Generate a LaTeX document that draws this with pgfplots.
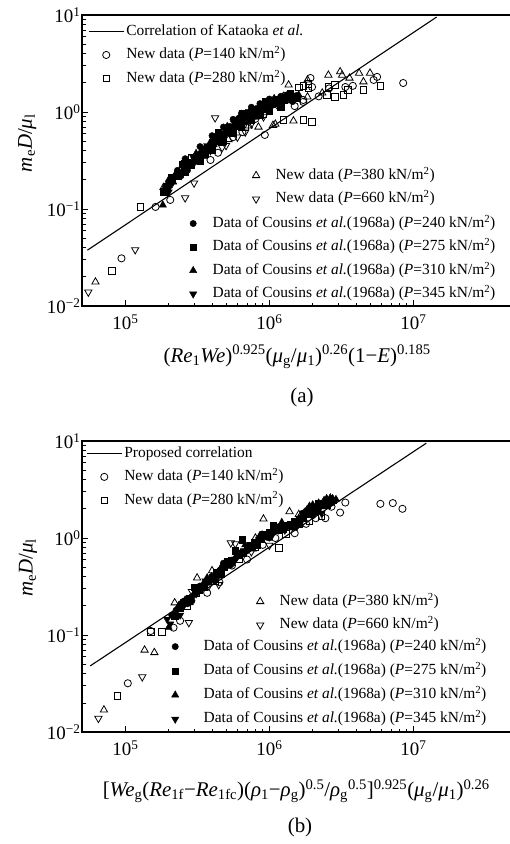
\documentclass[border=0pt]{standalone}
\usepackage{fontspec}
\setmainfont{Liberation Serif}
\usepackage{pgfplots}
\pgfplotsset{compat=1.18}
\newcommand{\knm}{kN/m\textsuperscript{2})}
\pgfplotsset{every axis/.append style={scale only axis, width=432bp, height=291bp,
    xmin=5e4, xmax=5e7, ymin=0.01, ymax=10, anchor=south west,
    legend cell align=left,
    legend style={draw=none, fill=none, inner sep=0pt, font=\fontsize{15.5}{18}\selectfont,
      row sep=9bp, nodes={inner xsep=2bp, inner ysep=0pt, text height=11bp, text depth=3.5bp}},
    legend image code/.code={\pgfpathrectangle{\pgfpoint{0bp}{-3bp}}{\pgfpoint{35bp}{6bp}}\pgfusepath{}\draw[mark repeat=2,mark phase=2,##1] plot coordinates {(0bp,0bp)(17.5bp,0bp)(35bp,0bp)};}}}
\tikzset{
  mkoc/.style={black, only marks, mark=o, mark size=3.6bp, mark options={line width=0.8bp}},
  mkos/.style={black, only marks, mark=square, mark size=3.3bp, mark options={line width=0.8bp}},
  mkotu/.style={black, only marks, mark=triangle, mark size=4.2bp, mark options={line width=0.8bp}},
  mkotd/.style={black, only marks, mark=triangle, mark size=4.2bp, mark options={line width=0.8bp, rotate=180}},
  mkfc/.style={black, only marks, mark=*, mark size=3.2bp},
  mkfs/.style={black, only marks, mark=square*, mark size=3.1bp},
  mkftu/.style={black, only marks, mark=triangle*, mark size=4.2bp},
  mkftd/.style={black, only marks, mark=triangle*, mark size=4.2bp, mark options={rotate=180}},
  mkcorr/.style={black, line width=1.1bp},
}
\begin{document}
\begin{tikzpicture}
% ================= panel (a) =================
\begin{loglogaxis}[at={(82bp,538bp)},
  xtick={1e5,1e6,1e7}, xticklabels={10\textsuperscript{5},10\textsuperscript{6},10\textsuperscript{7}},
  ytick={0.01,0.1,1,10}, yticklabels={10\textsuperscript{−2},10\textsuperscript{−1},10\textsuperscript{0},10\textsuperscript{1}},
  xtick pos=left, ytick pos=left, tick align=inside,
  major tick length=6bp, minor tick length=3.5bp,
  axis line style={line width=1.3bp},
  major tick style={line width=0.8bp, black}, minor tick style={line width=0.6bp, black},
  ticklabel style={font=\fontsize{19}{22}\selectfont},
  xticklabel style={yshift=-5bp}, yticklabel style={xshift=2bp},
  label style={font=\fontsize{21}{24}\selectfont},
  ylabel={\textit{m}\textsubscript{e}\textit{D}/\textit{μ}\textsubscript{l}},
  xlabel={(\textit{Re}\textsubscript{1}\textit{We})\textsuperscript{0.925}(\textit{μ}\textsubscript{g}/\textit{μ}\textsubscript{1})\textsuperscript{0.26}(1−\textit{E})\textsuperscript{0.185}},
  ylabel style={at={(axis description cs:-0.127,0.56)}, anchor=center},
  xlabel style={at={(axis description cs:0.498,-0.175)}, anchor=center},
  legend style={at={(axis description cs:0.0139,0.969)}, anchor=north west}]
\addplot[mkfc, forget plot] coordinates {(1.9e5,0.17)(2.3e5,0.25)(2.7e5,0.25)(3.0e5,0.34)(3.4e5,0.365)(3.8e5,0.44)(4.2e5,0.555)(4.6e5,0.51)(5.0e5,0.65)(5.4e5,0.65)(5.8e5,0.74)(6.2e5,0.875)(6.8e5,0.79)(7.3e5,0.98)(7.9e5,0.94)(8.4e5,1.04)(9.0e5,1.21)(9.7e5,1.04)(1.05e6,1.27)(1.15e6,1.21)(1.25e6,1.33)(1.35e6,1.51)(1.45e6,1.28)
 (2.0e5,0.19)(2.45e5,0.23)(3.15e5,0.31)(3.55e5,0.42)(3.95e5,0.47)(4.35e5,0.52)(4.9e5,0.60)(5.3e5,0.71)(5.95e5,0.77)(6.5e5,0.88)(7.1e5,0.91)(7.7e5,1.00)(8.1e5,1.08)(8.7e5,1.07)(9.4e5,1.16)(1.0e6,1.20)(1.1e6,1.29)(1.2e6,1.27)(1.4e6,1.40)(1.55e6,1.48)
 (2.6e5,0.33)(3.3e5,0.44)(4.0e5,0.57)(4.8e5,0.70)(5.6e5,0.84)(6.4e5,0.97)(7.5e5,1.12)(8.6e5,1.22)(1.0e6,1.36)(1.2e6,1.45)};
\addplot[mkfs, forget plot] coordinates {(1.85e5,0.15)(2.1e5,0.21)(2.5e5,0.29)(2.85e5,0.285)(3.2e5,0.35)(3.6e5,0.37)(4.0e5,0.49)(4.4e5,0.615)(4.8e5,0.56)(5.2e5,0.65)(5.6e5,0.64)(6.0e5,0.81)(6.5e5,0.96)(7.1e5,0.865)(7.6e5,0.96)(8.2e5,0.92)(8.8e5,1.13)(9.4e5,1.30)(1.0e6,1.12)(1.1e6,1.24)(1.2e6,1.17)(1.3e6,1.42)(1.4e6,1.55)(1.55e6,1.40)
 (1.95e5,0.17)(2.3e5,0.22)(2.7e5,0.30)(3.05e5,0.32)(3.45e5,0.40)(3.85e5,0.43)(4.2e5,0.50)(4.65e5,0.58)(5.05e5,0.62)(5.45e5,0.70)(5.8e5,0.72)(6.3e5,0.80)(6.9e5,0.92)(7.4e5,0.93)(8.0e5,1.02)(8.6e5,1.03)(9.1e5,1.12)(9.8e5,1.18)(1.05e6,1.21)(1.16e6,1.30)(1.27e6,1.33)(1.45e6,1.44)
 (2.6e5,0.24)(3.3e5,0.31)(4.0e5,0.40)(4.8e5,0.50)(5.6e5,0.60)(6.4e5,0.70)(7.5e5,0.83)(8.6e5,0.93)(1.0e6,1.03)(1.2e6,1.12)};
\addplot[mkftu, forget plot] coordinates {(1.82e5,0.11)(2.0e5,0.20)(2.4e5,0.22)(2.75e5,0.29)(3.1e5,0.375)(3.5e5,0.35)(3.9e5,0.49)(4.3e5,0.48)(4.7e5,0.58)(5.1e5,0.71)(5.5e5,0.62)(5.9e5,0.82)(6.3e5,0.745)(6.9e5,0.89)(7.4e5,1.05)(8.0e5,0.88)(8.6e5,1.14)(9.2e5,1.03)(9.9e5,1.17)(1.08e6,1.38)(1.18e6,1.13)(1.28e6,1.45)(1.42e6,1.30)(1.6e6,1.5)
 (2.15e5,0.19)(2.55e5,0.26)(2.95e5,0.31)(3.3e5,0.38)(3.7e5,0.42)(4.1e5,0.46)(4.5e5,0.55)(4.95e5,0.62)(5.35e5,0.66)(5.75e5,0.72)(6.15e5,0.79)(6.6e5,0.86)(7.15e5,0.94)(7.7e5,0.97)(8.3e5,1.03)(8.9e5,1.10)(9.55e5,1.13)(1.04e6,1.22)(1.14e6,1.27)(1.23e6,1.32)(1.35e6,1.37)(1.5e6,1.42)};
\addplot[mkftd, forget plot] coordinates {(2.0e5,0.15)(2.2e5,0.21)(2.6e5,0.26)(2.95e5,0.345)(3.3e5,0.33)(3.7e5,0.45)(4.1e5,0.49)(4.5e5,0.52)(4.9e5,0.665)(5.3e5,0.60)(5.7e5,0.765)(6.1e5,0.78)(6.7e5,0.82)(7.2e5,1.01)(7.8e5,0.88)(8.5e5,1.10)(9.3e5,1.125)(1.02e6,1.13)(1.12e6,1.38)(1.22e6,1.18)(1.32e6,1.43)
 (2.1e5,0.18)(2.45e5,0.22)(2.8e5,0.29)(3.15e5,0.34)(3.5e5,0.39)(3.9e5,0.44)(4.3e5,0.50)(4.7e5,0.55)(5.1e5,0.64)(5.5e5,0.68)(5.95e5,0.73)(6.4e5,0.80)(6.95e5,0.87)(7.5e5,0.95)(8.1e5,0.99)(8.8e5,1.06)(9.7e5,1.17)(1.07e6,1.21)(1.17e6,1.26)(1.27e6,1.31)};
\addplot[mkotu, forget plot] coordinates {(6.2e4,0.0177)(1.84e5,0.167)(2.2e5,0.22)(2.4e5,0.25)(3.3e5,0.35)(5.2e5,0.52)(7.2e5,0.72)(8.4e5,0.70)(1.06e6,0.73)(1.1e6,0.75)(1.47e6,0.81)(1.36e6,1.9)(1.84e6,2.14)(1.84e6,1.43)(2.33e6,1.57)(2.57e6,2.4)(3.1e6,2.6)(3.2e6,2.4)(3.6e6,2.24)(4.2e6,2.52)(4.5e6,2.05)(5.0e6,2.52)(1.25e6,1.45)(9.5e5,1.25)};
\addplot[mkotd, forget plot] coordinates {(5.53e4,0.0139)(1.17e5,0.038)(2.6e5,0.13)(3.0e5,0.185)(2.6e5,0.30)(4.2e5,0.87)(3.9e5,0.40)(4.7e5,0.43)(6.8e5,0.62)(5.0e5,0.45)(9.1e5,0.89)(6.0e5,0.55)(7.5e5,0.75)};
\addplot[mkcorr] coordinates {(5.45e4,0.0376)(1.45e7,9.53)};
\addlegendentry{Correlation of Kataoka \textit{et al.}}
\addplot[mkoc] coordinates {(9.4e4,0.031)(1.62e5,0.105)(2.05e5,0.124)(2.1e5,0.2)(2.5e5,0.27)(2.9e5,0.29)(3.9e5,0.32)(4.4e5,0.38)(5.6e5,0.55)(6.5e5,0.62)(8.0e5,0.85)(9.3e5,0.58)(1.2e6,1.15)(1.72e6,1.27)(1.93e6,2.24)(1.98e6,1.81)(1.72e6,1.33)(2.2e6,1.45)(2.6e6,1.75)(3.37e6,1.81)(3.8e6,1.86)(5.3e6,2.14)(5.6e6,2.3)(8.5e6,1.99)(1.5e6,1.15)(1.35e6,1.5)};
\addlegendentry{New data (\textit{P}=140 \knm}
\addplot[mkos] coordinates {(8.1e4,0.023)(1.27e5,0.105)(1.84e5,0.15)(2.9e5,0.34)(4.5e5,0.5)(6.8e5,0.7)(9.0e5,0.95)(1.25e6,0.83)(1.72e6,0.83)(1.98e6,0.79)(1.6e6,1.8)(1.72e6,1.86)(1.87e6,1.95)(1.87e6,1.77)(2.5e6,1.5)(2.57e6,1.81)(2.85e6,1.9)(2.85e6,1.43)(3.27e6,1.5)(3.5e6,1.7)(4.5e6,1.7)(5.9e6,1.86)(1.15e6,1.35)(1.4e6,1.45)};
\addlegendentry{New data (\textit{P}=280 \knm}
\end{loglogaxis}
\begin{loglogaxis}[hide axis, at={(82bp,538bp)},
  legend style={at={(axis description cs:0.362,0.474)}, anchor=north west}]
\addlegendimage{mkotu}\addlegendentry{New data (\textit{P}=380 \knm}
\addlegendimage{mkotd}\addlegendentry{New data (\textit{P}=660 \knm}
\end{loglogaxis}
\begin{loglogaxis}[hide axis, at={(82bp,538bp)},
  legend style={at={(axis description cs:0.2164,0.309)}, anchor=north west}]
\addlegendimage{mkfc}\addlegendentry{Data of Cousins \textit{et al.}(1968a) (\textit{P}=240 \knm}
\addlegendimage{mkfs}\addlegendentry{Data of Cousins \textit{et al.}(1968a) (\textit{P}=275 \knm}
\addlegendimage{mkftu}\addlegendentry{Data of Cousins \textit{et al.}(1968a) (\textit{P}=310 \knm}
\addlegendimage{mkftd}\addlegendentry{Data of Cousins \textit{et al.}(1968a) (\textit{P}=345 \knm}
\end{loglogaxis}
\node[font=\fontsize{21}{24}\selectfont] at (302bp,447bp) {(a)};
% ================= panel (b) =================
\begin{loglogaxis}[at={(82bp,112bp)},
  xtick={1e5,1e6,1e7}, xticklabels={10\textsuperscript{5},10\textsuperscript{6},10\textsuperscript{7}},
  ytick={0.01,0.1,1,10}, yticklabels={10\textsuperscript{−2},10\textsuperscript{−1},10\textsuperscript{0},10\textsuperscript{1}},
  xtick pos=left, ytick pos=left, tick align=inside,
  major tick length=6bp, minor tick length=3.5bp,
  axis line style={line width=1.3bp},
  major tick style={line width=0.8bp, black}, minor tick style={line width=0.6bp, black},
  ticklabel style={font=\fontsize{19}{22}\selectfont},
  xticklabel style={yshift=-5bp}, yticklabel style={xshift=2bp},
  label style={font=\fontsize{21}{24}\selectfont},
  ylabel={\textit{m}\textsubscript{e}\textit{D}/\textit{μ}\textsubscript{l}},
  xlabel={[\textit{We}\textsubscript{g}(\textit{Re}\textsubscript{1f}−\textit{Re}\textsubscript{1fc})(\textit{ρ}\textsubscript{1}−\textit{ρ}\textsubscript{g})\textsuperscript{0.5}/\textit{ρ}\textsubscript{g}\textsuperscript{0.5}]\textsuperscript{0.925}(\textit{μ}\textsubscript{g}/\textit{μ}\textsubscript{1})\textsuperscript{0.26}},
  ylabel style={at={(axis description cs:-0.125,0.564)}, anchor=center},
  xlabel style={at={(axis description cs:0.496,-0.203)}, anchor=center},
  legend style={at={(axis description cs:0.0093,0.983)}, anchor=north west}]
\addplot[mkfc, forget plot] coordinates {(2.1e5,0.16)(2.5e5,0.22)(2.9e5,0.225)(3.3e5,0.32)(3.8e5,0.35)(4.3e5,0.43)(4.8e5,0.55)(5.4e5,0.53)(6.0e5,0.69)(6.9e5,0.73)(7.8e5,0.885)(8.9e5,1.1)(1.0e6,1.0)(1.15e6,1.30)(1.3e6,1.27)(1.5e6,1.47)(1.7e6,1.8)(2.0e6,1.7)(2.4e6,2.28)(2.7e6,2.3)
 (2.25e5,0.18)(2.7e5,0.21)(3.1e5,0.27)(3.55e5,0.34)(4.05e5,0.40)(4.55e5,0.46)(5.1e5,0.52)(5.7e5,0.60)(6.4e5,0.70)(7.3e5,0.82)(8.3e5,0.93)(9.5e5,1.08)(1.08e6,1.18)(1.22e6,1.30)(1.4e6,1.38)(1.6e6,1.56)(1.85e6,1.75)(2.2e6,2.0)(2.55e6,2.3)};
\addplot[mkfs, forget plot] coordinates {(2.2e5,0.155)(2.6e5,0.22)(3.0e5,0.31)(3.5e5,0.31)(4.0e5,0.39)(4.6e5,0.42)(5.1e5,0.57)(5.8e5,0.74)(6.5e5,0.96)(6.6e5,0.70)(7.4e5,0.84)(8.2e5,0.84)(9.3e5,1.10)(1.07e6,1.36)(1.25e6,1.24)(1.4e6,1.40)(1.6e6,1.40)(1.85e6,1.89)(2.2e6,2.3)(2.5e6,2.16)
 (2.4e5,0.19)(2.8e5,0.24)(3.25e5,0.29)(3.75e5,0.36)(4.3e5,0.44)(4.85e5,0.50)(5.45e5,0.59)(6.2e5,0.66)(7.0e5,0.78)(7.9e5,0.90)(8.8e5,0.98)(1.0e6,1.14)(1.15e6,1.22)(1.33e6,1.36)(1.5e6,1.50)(1.72e6,1.62)(2.05e6,1.90)(2.4e6,2.25)(2.75e6,2.45)};
\addplot[mkftu, forget plot] coordinates {(2.0e5,0.12)(2.35e5,0.20)(2.8e5,0.215)(3.2e5,0.295)(3.7e5,0.39)(4.2e5,0.365)(4.7e5,0.52)(5.2e5,0.515)(5.9e5,0.655)(6.8e5,0.85)(7.7e5,0.77)(8.6e5,1.06)(9.8e5,1.01)(1.1e6,1.2)(1.22e6,1.45)(1.45e6,1.27)(1.75e6,1.84)(1.9e6,2.13)(2.1e6,2.1)(2.3e6,2.1)(2.5e6,2.55)(2.65e6,2.6)(2.9e6,2.5)
 (2.2e5,0.17)(2.6e5,0.23)(3.0e5,0.27)(3.45e5,0.33)(3.95e5,0.40)(4.45e5,0.45)(5.0e5,0.55)(5.5e5,0.58)(6.3e5,0.70)(7.2e5,0.80)(8.2e5,0.92)(9.2e5,1.05)(1.04e6,1.13)(1.17e6,1.26)(1.33e6,1.33)(1.6e6,1.6)(1.82e6,1.95)(2.0e6,2.2)(2.2e6,2.3)(2.4e6,2.45)(2.75e6,2.55)};
\addplot[mkftd, forget plot] coordinates {(1.95e5,0.145)(2.05e5,0.13)(2.4e5,0.16)(2.75e5,0.225)(3.1e5,0.265)(3.6e5,0.36)(4.1e5,0.37)(4.6e5,0.465)(5.0e5,0.52)(5.7e5,0.57)(6.3e5,0.70)(7.2e5,0.78)(8.0e5,0.91)(9.0e5,1.01)(1.05e6,1.08)(1.28e6,1.2)(1.55e6,1.31)(1.8e6,1.75)(2.3e6,1.8)
 (2.2e5,0.16)(2.55e5,0.20)(2.95e5,0.25)(3.35e5,0.30)(3.85e5,0.38)(4.35e5,0.42)(4.8e5,0.49)(5.35e5,0.56)(6.0e5,0.64)(6.7e5,0.74)(7.6e5,0.85)(8.5e5,0.97)(9.5e5,1.04)(1.15e6,1.20)(1.4e6,1.35)(1.65e6,1.55)(2.0e6,1.95)};
\addplot[mkotu, forget plot] coordinates {(7.1e4,0.0169)(1.36e5,0.07)(1.59e5,0.066)(2.2e5,0.215)(2.35e5,0.2)(3.15e5,0.388)(4.0e5,0.46)(8.0e5,1.0)(9.1e5,1.57)(1.38e6,1.87)(1.6e6,1.75)(2.3e6,2.2)(2.5e6,2.3)(1.2e6,1.3)(6.0e5,0.65)};
\addplot[mkotd, forget plot] coordinates {(6.5e4,0.0138)(1.31e5,0.037)(2.76e5,0.134)(4.45e5,0.33)(5.4e5,0.89)(5.8e5,0.87)(1.0e6,0.84)(2.9e5,0.28)(3.8e5,0.32)(7.5e5,0.72)};
\addplot[mkcorr] coordinates {(5.7e4,0.048)(1.23e7,9.5)};
\addlegendentry{Proposed correlation}
\addplot[mkoc] coordinates {(1.04e5,0.0318)(1.5e5,0.11)(2.16e5,0.119)(2.4e5,0.14)(3.7e5,0.272)(4.5e5,0.35)(5.5e5,0.52)(7.0e5,0.6)(9.0e5,0.85)(1.1e6,1.0)(1.5e6,1.12)(2.1e6,1.6)(2.45e6,1.6)(3.1e6,1.83)(3.37e6,2.32)(5.9e6,2.25)(7.2e6,2.29)(8.4e6,2.0)(1.8e6,1.4)(2.7e6,2.1)};
\addlegendentry{New data (\textit{P}=140 \knm}
\addplot[mkos] coordinates {(8.8e4,0.0236)(1.51e5,0.108)(1.8e5,0.108)(2.68e5,0.198)(3.1e5,0.27)(4.2e5,0.36)(6.2e5,0.6)(8.0e5,0.8)(1.16e6,0.79)(1.3e6,1.1)(1.9e6,1.5)(2.3e6,1.7)};
\addlegendentry{New data (\textit{P}=280 \knm}
\end{loglogaxis}
\begin{loglogaxis}[hide axis, at={(82bp,112bp)},
  legend style={at={(axis description cs:0.3715,0.474)}, anchor=north west}]
\addlegendimage{mkotu}\addlegendentry{New data (\textit{P}=380 \knm}
\addlegendimage{mkotd}\addlegendentry{New data (\textit{P}=660 \knm}
\end{loglogaxis}
\begin{loglogaxis}[hide axis, at={(82bp,112bp)},
  legend image code/.code={\pgfpathrectangle{\pgfpoint{0bp}{-3bp}}{\pgfpoint{44bp}{6bp}}\pgfusepath{}\draw[mark repeat=2,mark phase=2,#1] plot coordinates {(0bp,0bp)(17.5bp,0bp)(35bp,0bp)};},
  legend style={at={(axis description cs:0.1748,0.319)}, anchor=north west, row sep=9.7bp}]
\addlegendimage{mkfc}\addlegendentry{Data of Cousins \textit{et al.}(1968a) (\textit{P}=240 \knm}
\addlegendimage{mkfs}\addlegendentry{Data of Cousins \textit{et al.}(1968a) (\textit{P}=275 \knm}
\addlegendimage{mkftu}\addlegendentry{Data of Cousins \textit{et al.}(1968a) (\textit{P}=310 \knm}
\addlegendimage{mkftd}\addlegendentry{Data of Cousins \textit{et al.}(1968a) (\textit{P}=345 \knm}
\end{loglogaxis}
\node[font=\fontsize{21}{24}\selectfont] at (300bp,17bp) {(b)};
\pgfresetboundingbox
\useasboundingbox (0bp,0bp) rectangle (510bp,844bp);
\end{tikzpicture}
\end{document}
